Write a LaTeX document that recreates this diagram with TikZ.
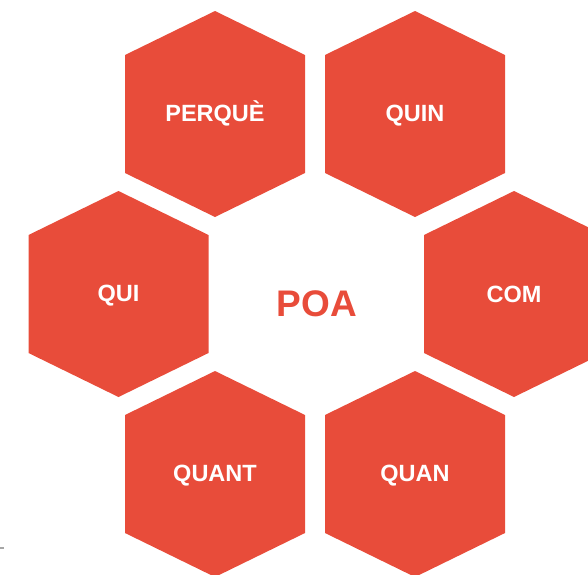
\documentclass[tikz,border=0pt]{standalone}
\usepackage{fontspec}
\setmainfont{Liberation Sans}
\definecolor{hexred}{HTML}{E84C3A}
\tikzset{
  hexa/.pic={\fill[hexred] (0,-103) -- (90,-59) -- (90,59) -- (0,103) -- (-90,59) -- (-90,-59) -- cycle;},
  lbl/.style={text=white, font=\bfseries\fontsize{23.5}{28}\selectfont, anchor=base, inner sep=0pt},
  title/.style={text=hexred, font=\bfseries\fontsize{37}{44}\selectfont, anchor=base, inner sep=0pt}
}
\begin{document}
\begin{tikzpicture}[x=1pt,y=-1pt]
\useasboundingbox (0,0) rectangle (588,574);
\begin{scope}
\clip (0,0) rectangle (588,574);
\pic at (215,114) {hexa};
\pic at (415,114) {hexa};
\pic at (118.5,294) {hexa};
\pic at (514,294) {hexa};
\pic at (215,474) {hexa};
\pic at (415,474) {hexa};
\end{scope}
\node[lbl] (perque) at (215,121.5) {PERQUÈ};
\node[lbl] (quin) at (415,121.5) {QUIN};
\node[lbl] (qui) at (118.5,301.5) {QUI};
\node[lbl] (com) at (514,302) {COM};
\node[lbl] (quant) at (215,481.5) {QUANT};
\node[lbl] (quan) at (415,481.5) {QUAN};
\node[title] (poa) at (317,316.5) {POA};
\fill[gray!70] (0,547) rectangle (4,549);
\end{tikzpicture}
\end{document}
